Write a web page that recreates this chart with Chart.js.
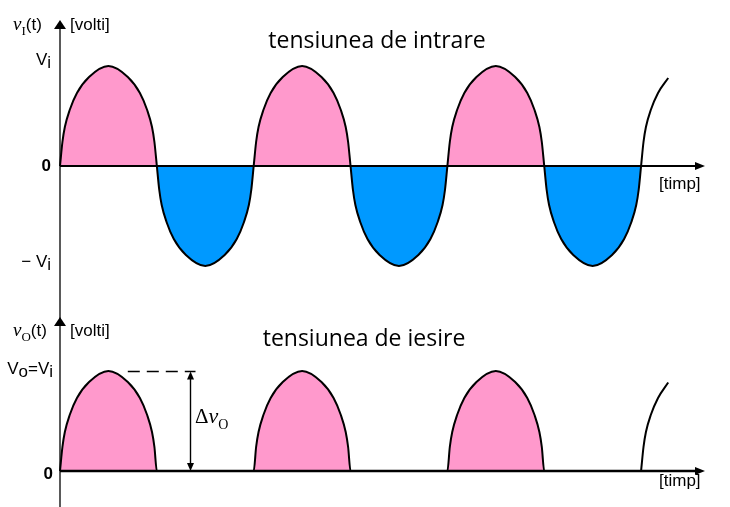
<!DOCTYPE html>
<html>
<head>
<meta charset="utf-8">
<script src="https://cdn.jsdelivr.net/npm/chart.js@4.4.1/dist/chart.umd.min.js"></script>
<style>
  html, body { margin: 0; padding: 0; background: #fff; }
  #wrap { position: relative; width: 730px; height: 507px; overflow: hidden; }
  canvas { position: absolute; left: 0; }
</style>
</head>
<body>
<div id="wrap">
  <canvas id="inChart" width="730" height="300" style="top:0"></canvas>
  <canvas id="outChart" width="730" height="207" style="top:300px"></canvas>
</div>
<script>
// time: half period = 10 units, values scaled so that Vi = 1
const tIn = [
  0, 0.25, 0.5, 1, 1.75, 3, 5, 7, 8.25, 9, 9.5, 9.75, 10,
  10.25, 10.5, 11, 11.75, 13, 15, 17, 18.25, 19, 19.5, 19.75, 20,
  20.25, 20.5, 21, 21.75, 23, 25, 27, 28.25, 29, 29.5, 29.75, 30,
  30.25, 30.5, 31, 31.75, 33, 35, 37, 38.25, 39, 39.5, 39.75, 40,
  40.25, 40.5, 41, 41.75, 43, 45, 47, 48.25, 49, 49.5, 49.75, 50,
  50.25, 50.5, 51, 51.75, 53, 55, 57, 58.25, 59, 59.5, 59.75, 60
];
const vIn = [
  0, 0.24, 0.39, 0.56, 0.73, 0.89, 1, 0.89, 0.73, 0.56, 0.39, 0.24, 0,
  -0.24, -0.39, -0.56, -0.73, -0.89, -1, -0.89, -0.73, -0.56, -0.39, -0.24, 0,
  0.24, 0.39, 0.56, 0.73, 0.89, 1, 0.89, 0.73, 0.56, 0.39, 0.24, 0,
  -0.24, -0.39, -0.56, -0.73, -0.89, -1, -0.89, -0.73, -0.56, -0.39, -0.24, 0,
  0.24, 0.39, 0.56, 0.73, 0.89, 1, 0.89, 0.73, 0.56, 0.39, 0.24, 0,
  -0.24, -0.39, -0.56, -0.73, -0.89, -1, -0.89, -0.73, -0.56, -0.39, -0.24, 0
];
const tInTail = [60, 60.25, 60.5, 61, 61.75, 62.8];
const vInTail = [0, 0.24, 0.39, 0.56, 0.73, 0.88];

const tOut = [
  0, 0.25, 0.5, 1, 1.75, 3, 5, 7, 8.25, 9, 9.5, 9.75, 10,
  20, 20.25, 20.5, 21, 21.75, 23, 25, 27, 28.25, 29, 29.5, 29.75, 30,
  40, 40.25, 40.5, 41, 41.75, 43, 45, 47, 48.25, 49, 49.5, 49.75, 50,
  60
];
const vOut = [
  0, 0.24, 0.39, 0.56, 0.73, 0.89, 1, 0.89, 0.73, 0.56, 0.39, 0.24, 0,
  0, 0.24, 0.39, 0.56, 0.73, 0.89, 1, 0.89, 0.73, 0.56, 0.39, 0.24, 0,
  0, 0.24, 0.39, 0.56, 0.73, 0.89, 1, 0.89, 0.73, 0.56, 0.39, 0.24, 0,
  0
];
const tOutTail = [60, 60.25, 60.5, 61, 61.75, 62.8];
const vOutTail = [0, 0.24, 0.39, 0.56, 0.73, 0.885];

const inTickValues = [1, 0, -1];
const inTickLabels = ['V_i', '0', '− V_i'];
const outTickValues = [1, 0];
const outTickLabels = ['V_o=V_i', '0'];

const tEnd = 66.6;       // arrow tip of the time axis
const dashFrom = 7;      // dashed peak marker start
const deltaAt = 13.4;    // where the Δv_o arrow stands

const SANS = '"Liberation Sans", Arial, sans-serif';
const SERIF = '"Liberation Serif", "DejaVu Serif", serif';
const TITLE = '"Open Sans", "Noto Sans", sans-serif';

const pts = (ts, vs) => ts.map((t, i) => ({ x: t, y: vs[i] }));

// draw a run of text pieces left to right: [text, font, dy]
function rich(ctx, x, y, parts, align) {
  let w = 0;
  parts.forEach(p => { ctx.font = p[1]; w += ctx.measureText(p[0]).width; });
  let cx = align === 'right' ? x - w : x;
  parts.forEach(p => {
    ctx.font = p[1];
    ctx.fillText(p[0], cx, y + (p[2] || 0));
    cx += ctx.measureText(p[0]).width;
  });
}

function tickParts(label) {
  if (label === '0') return [['0', 'bold 17px ' + SANS, 0]];
  const parts = [];
  for (let i = 0; i < label.length; i++) {
    if (label[i] === '_') { parts.push([label[i + 1], '17px ' + SANS, 3]); i++; }
    else parts.push([label[i], '17px ' + SANS, 0]);
  }
  return parts;
}

function triangleUp(ctx, x, tip, w, h) {
  ctx.beginPath();
  ctx.moveTo(x, tip);
  ctx.lineTo(x - w / 2, tip + h);
  ctx.lineTo(x + w / 2, tip + h);
  ctx.closePath();
  ctx.fill();
}

const axesPlugin = {
  id: 'axesPlugin',
  afterDatasetsDraw(chart, args, o) {
    const { ctx } = chart;
    const xs = chart.scales.x, ys = chart.scales.y;
    const x0 = xs.getPixelForValue(0);
    const y0 = ys.getPixelForValue(0);
    const xTip = xs.getPixelForValue(tEnd);
    ctx.save();
    ctx.fillStyle = '#000';
    ctx.strokeStyle = '#000';

    // vertical axis
    ctx.lineWidth = 1.3;
    ctx.beginPath();
    ctx.moveTo(x0, o.lineFrom);
    ctx.lineTo(x0, chart.height);
    ctx.stroke();
    triangleUp(ctx, x0, o.arrowTip, 12, 9);

    // time axis
    ctx.lineWidth = o.zeroWidth;
    ctx.beginPath();
    ctx.moveTo(x0, y0);
    ctx.lineTo(xTip - 8, y0);
    ctx.stroke();
    ctx.beginPath();
    ctx.moveTo(xTip, y0);
    ctx.lineTo(xTip - 10, y0 - 4);
    ctx.lineTo(xTip - 10, y0 + 4);
    ctx.closePath();
    ctx.fill();

    // tick labels
    ctx.textBaseline = 'middle';
    o.tickValues.forEach((v, i) => {
      rich(ctx, o.tickRight, ys.getPixelForValue(v) + o.tickNudge[i], tickParts(o.tickLabels[i]), 'right');
    });

    ctx.textBaseline = 'alphabetic';
    // axis names
    rich(ctx, 13, o.nameBase, [
      ['v', 'italic 19px ' + SERIF, 0],
      [o.sub, '13px ' + SERIF, 5],
      ['(t)', '17px ' + SANS, 0]
    ]);
    ctx.font = '17px ' + SANS;
    ctx.fillText('[volti]', 70, o.nameBase);
    ctx.fillText('[timp]', 659, y0 + o.timpDy);

    // title
    ctx.font = '23px ' + TITLE;
    ctx.textAlign = 'center';
    ctx.fillText(o.title, o.titleX, o.titleBase);
    ctx.textAlign = 'left';

    if (o.delta) {
      const yTop = Math.round(ys.getPixelForValue(1)) + 0.5;
      const xa = Math.round(xs.getPixelForValue(deltaAt)) + 0.5;
      ctx.lineWidth = 1.4;
      ctx.setLineDash([12, 7]);
      ctx.beginPath();
      ctx.moveTo(xs.getPixelForValue(dashFrom), yTop);
      ctx.lineTo(xa + 5, yTop);
      ctx.stroke();
      ctx.setLineDash([]);
      ctx.beginPath();
      ctx.moveTo(xa, yTop + 6);
      ctx.lineTo(xa, y0 - 6);
      ctx.stroke();
      triangleUp(ctx, xa, yTop, 7, 8);
      ctx.beginPath();
      ctx.moveTo(xa, y0);
      ctx.lineTo(xa - 3.5, y0 - 8);
      ctx.lineTo(xa + 3.5, y0 - 8);
      ctx.closePath();
      ctx.fill();
      rich(ctx, 195, 123, [
        ['Δ', '21px ' + SERIF, 0],
        ['v', 'italic 22px ' + SERIF, 0],
        ['O', '14px ' + SERIF, 6]
      ]);
    }
    ctx.restore();
  }
};

function makeChart(id, main, tail, fill, yMin, pad, opts) {
  return new Chart(document.getElementById(id), {
    type: 'line',
    data: {
      datasets: [
        {
          data: main,
          borderColor: '#000',
          borderWidth: opts.lineWidth,
          pointRadius: 0,
          cubicInterpolationMode: 'monotone',
          fill: fill,
          clip: false
        },
        {
          data: tail,
          borderColor: '#000',
          borderWidth: 2,
          pointRadius: 0,
          cubicInterpolationMode: 'monotone',
          fill: false,
          clip: false
        }
      ]
    },
    options: {
      responsive: false,
      animation: false,
      devicePixelRatio: 1,
      events: [],
      layout: { padding: pad },
      scales: {
        x: { type: 'linear', min: 0, max: tEnd, display: false },
        y: { min: yMin, max: 1, display: false }
      },
      plugins: {
        legend: { display: false },
        tooltip: { enabled: false },
        axesPlugin: opts
      }
    },
    plugins: [axesPlugin]
  });
}

makeChart('inChart', pts(tIn, vIn), pts(tInTail, vInTail),
  { target: 'origin', above: '#FF99CC', below: '#0099FF' }, -1,
  { left: 60, right: 25, top: 66, bottom: 34 },
  {
    lineWidth: 2, zeroWidth: 2, arrowTip: 20, lineFrom: 25, nameBase: 30, sub: 'I',
    tickValues: inTickValues, tickLabels: inTickLabels, tickNudge: [-6, 0, -4], tickRight: 51,
    timpDy: 23, title: 'tensiunea de intrare', titleX: 377, titleBase: 48, delta: false
  });

makeChart('outChart', pts(tOut, vOut), pts(tOutTail, vOutTail),
  { target: 'origin', above: '#FF99CC' }, 0,
  { left: 60, right: 25, top: 71, bottom: 36 },
  {
    lineWidth: 2, zeroWidth: 2.6, arrowTip: 17, lineFrom: 0, nameBase: 36, sub: 'O',
    tickValues: outTickValues, tickLabels: outTickLabels, tickNudge: [-2, 3], tickRight: 53,
    timpDy: 15, title: 'tensiunea de iesire', titleX: 364, titleBase: 46, delta: true
  });
</script>
</body>
</html>
